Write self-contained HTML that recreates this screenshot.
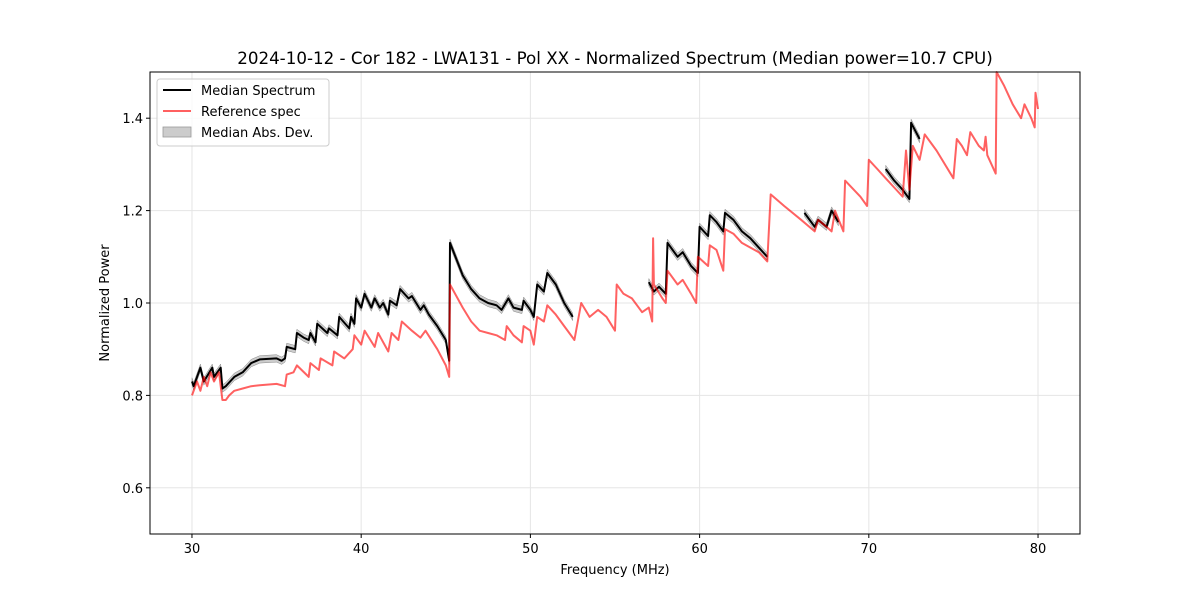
<!DOCTYPE html>
<html><head><meta charset="utf-8"><style>
body{margin:0;background:#fff;}
svg text{font-family:"DejaVu Sans","Liberation Sans",sans-serif;fill:#000;}
</style></head><body>
<svg id="chart" width="1200" height="600" viewBox="0 0 1200 600" xmlns="http://www.w3.org/2000/svg">
<rect width="1200" height="600" fill="#fff"/>
<g id="grid"></g>
<g id="series"></g>
<rect x="150" y="72" width="930" height="462" fill="none" stroke="#000" stroke-width="1"/>
<g id="ticks"></g>
<text x="615" y="64" text-anchor="middle" font-size="16.7">2024-10-12 - Cor 182 - LWA131 - Pol XX - Normalized Spectrum (Median power=10.7 CPU)</text>
<text x="615" y="574" text-anchor="middle" font-size="13">Frequency (MHz)</text>
<text x="109" y="303" text-anchor="middle" font-size="13" transform="rotate(-90 109 303)">Normalized Power</text>
<g>
<rect x="157" y="79" width="172" height="67" rx="3" fill="#fff" fill-opacity="0.8" stroke="#ccc"/>
<line x1="163" y1="90" x2="191" y2="90" stroke="#000" stroke-width="2"/>
<text x="201" y="95" font-size="13">Median Spectrum</text>
<line x1="163" y1="111" x2="191" y2="111" stroke="#ff6060" stroke-width="2"/>
<text x="201" y="116" font-size="13">Reference spec</text>
<rect x="163" y="127" width="28" height="10" fill="#000" fill-opacity="0.2" stroke="#999" stroke-width="0.8"/>
<text x="201" y="137" font-size="13">Median Abs. Dev.</text>
</g>
</svg>
<script>
const xTicks=[30,40,50,60,70,80];
const yTicks=[0.6,0.8,1.0,1.2,1.4];
const yTickLabels=["0.6","0.8","1.0","1.2","1.4"];
const refFreq=[30.0,30.3,30.5,30.7,30.9,31.1,31.3,31.6,31.8,32.0,32.2,32.5,33,33.5,34,35,35.5,35.6,36,36.2,36.9,37.0,37.5,37.6,38.3,38.4,39,39.5,39.6,40,40.2,40.8,41,41.6,41.8,42.2,42.4,43,43.5,43.8,44.5,45,45.2,45.25,46,46.5,47,47.5,48,48.5,48.6,49,49.5,49.6,50,50.2,50.4,50.8,51,51.5,52,52.5,52.6,53.0,53.5,54,54.5,55,55.1,55.5,56,56.6,57,57.2,57.25,57.3,57.8,58.0,58.1,58.7,59,59.5,59.8,59.9,60.5,60.6,61,61.4,61.5,62,62.5,63,63.5,64,64.2,65,66,66.8,67,67.5,67.8,68,68.5,68.6,69.5,69.9,70,70.5,71,71.5,72,72.2,72.4,72.6,73,73.3,74,75,75.2,75.5,75.8,76.0,76.5,76.8,76.9,77.0,77.5,77.55,78,78.5,79,79.2,79.6,79.8,79.85,80];
const refPower=[0.80,0.83,0.81,0.84,0.82,0.85,0.83,0.85,0.79,0.79,0.80,0.81,0.815,0.82,0.822,0.825,0.82,0.845,0.85,0.865,0.84,0.87,0.855,0.88,0.865,0.895,0.88,0.90,0.93,0.91,0.94,0.905,0.935,0.895,0.935,0.92,0.96,0.94,0.925,0.94,0.90,0.865,0.84,1.04,0.99,0.96,0.94,0.935,0.93,0.92,0.95,0.93,0.915,0.95,0.94,0.91,0.97,0.96,0.995,0.975,0.95,0.925,0.92,1.00,0.97,0.985,0.97,0.94,1.04,1.02,1.01,0.98,0.99,0.96,1.14,1.04,1.01,1.00,1.07,1.04,1.05,1.02,1.00,1.10,1.08,1.125,1.115,1.07,1.16,1.15,1.13,1.12,1.11,1.09,1.235,1.21,1.18,1.155,1.18,1.165,1.155,1.20,1.155,1.265,1.23,1.21,1.31,1.29,1.27,1.25,1.23,1.33,1.245,1.34,1.31,1.365,1.33,1.27,1.355,1.34,1.32,1.37,1.34,1.33,1.36,1.32,1.28,1.50,1.47,1.43,1.40,1.43,1.40,1.38,1.455,1.42];
const medFreq1=[30.0,30.1,30.5,30.7,31.2,31.3,31.7,31.8,32,32.5,33,33.5,34,35,35.3,35.5,35.6,36.1,36.2,36.6,36.9,37.0,37.3,37.4,38.0,38.1,38.6,38.7,39.3,39.4,39.6,39.7,40,40.2,40.6,40.8,41.1,41.3,41.6,41.7,42.1,42.3,42.8,43.0,43.5,43.7,44,44.5,45,45.2,45.25,46,46.5,47,47.5,48,48.3,48.7,49,49.5,49.6,50.0,50.2,50.4,50.8,51,51.5,52,52.5];
const medPower1=[0.83,0.82,0.86,0.83,0.86,0.84,0.86,0.815,0.82,0.84,0.85,0.87,0.878,0.88,0.875,0.88,0.905,0.90,0.935,0.925,0.92,0.935,0.915,0.955,0.935,0.945,0.93,0.97,0.945,0.97,0.955,1.01,0.99,1.02,0.99,1.01,0.99,1.00,0.975,1.005,0.995,1.03,1.01,1.015,0.985,0.995,0.975,0.95,0.92,0.875,1.13,1.06,1.03,1.01,1.0,0.995,0.985,1.01,0.99,0.985,1.005,0.985,0.97,1.04,1.025,1.065,1.04,1.0,0.97];
const medFreq2=[57.0,57.3,57.6,58,58.1,58.7,59.0,59.5,59.9,60.0,60.5,60.6,61,61.4,61.5,62,62.5,63,63.5,64];
const medPower2=[1.045,1.025,1.035,1.02,1.13,1.10,1.11,1.08,1.065,1.165,1.145,1.19,1.175,1.155,1.195,1.18,1.155,1.14,1.12,1.10];
const medFreq3=[66.2,66.8,67,67.5,67.8,68.2];
const medPower3=[1.195,1.165,1.18,1.165,1.20,1.175];
const medFreq4=[71,71.5,72,72.4,72.5,73];
const medPower4=[1.29,1.265,1.245,1.225,1.39,1.355];
const madValue=[0.008];

const NS="http://www.w3.org/2000/svg";
const X0=150,X1=1080,Y0=534,Y1=72,xmin=27.52,xmax=82.48,ymin=0.5,ymax=1.5;
function xs(v){return X0+(v-xmin)/(xmax-xmin)*(X1-X0);}
function ys(v){return Y0-(v-ymin)/(ymax-ymin)*(Y0-Y1);}
function mk(t,a,p){const e=document.createElementNS(NS,t);for(const k in a)e.setAttribute(k,a[k]);p.appendChild(e);return e;}
const grid=document.getElementById('grid'),ticks=document.getElementById('ticks'),ser=document.getElementById('series');
xTicks.forEach(v=>{
 const g=mk('line',{x1:xs(v),x2:xs(v),y1:Y1,y2:Y0,stroke:'#e5e5e5','stroke-width':1},grid);
 
 
 const t=mk('line',{x1:xs(v),x2:xs(v),y1:Y0,y2:Y0+4,stroke:'#000'},ticks);
 
 
 const l=mk('text',{x:xs(v),y:Y0+19,'text-anchor':'middle','font-size':13},ticks);l.textContent=String(v);
 
 
});
yTicks.forEach((v,i)=>{
 const g=mk('line',{x1:X0,x2:X1,y1:ys(v),y2:ys(v),stroke:'#e5e5e5','stroke-width':1},grid);
 
 
 const t=mk('line',{x1:X0-4,x2:X0,y1:ys(v),y2:ys(v),stroke:'#000'},ticks);
 
 
 const l=mk('text',{x:X0-7,y:ys(v)+5,'text-anchor':'end','font-size':13},ticks);l.textContent=yTickLabels[i];
 
 
});
function pts(f,p,off){return f.map((v,i)=>xs(v).toFixed(1)+','+ys(p[i]+off).toFixed(1));}
const segs=[[medFreq1,medPower1],[medFreq2,medPower2],[medFreq3,medPower3],[medFreq4,medPower4]];
segs.forEach(([f,p])=>{
 const up=pts(f,p,madValue[0]),dn=pts(f,p,-madValue[0]).reverse();
 const b=mk('polygon',{points:up.concat(dn).join(' '),fill:'#000','fill-opacity':0.2,stroke:'#888','stroke-width':0.5},ser);
 
 
});
segs.forEach(([f,p])=>{
 const l=mk('polyline',{points:pts(f,p,0).join(' '),fill:'none',stroke:'#000','stroke-width':2,'stroke-linejoin':'round'},ser);
 
 
});
const r=mk('polyline',{points:pts(refFreq,refPower,0).join(' '),fill:'none',stroke:'#ff0000','stroke-opacity':0.62,'stroke-width':2,'stroke-linejoin':'round'},ser);


</script>
</body></html>
